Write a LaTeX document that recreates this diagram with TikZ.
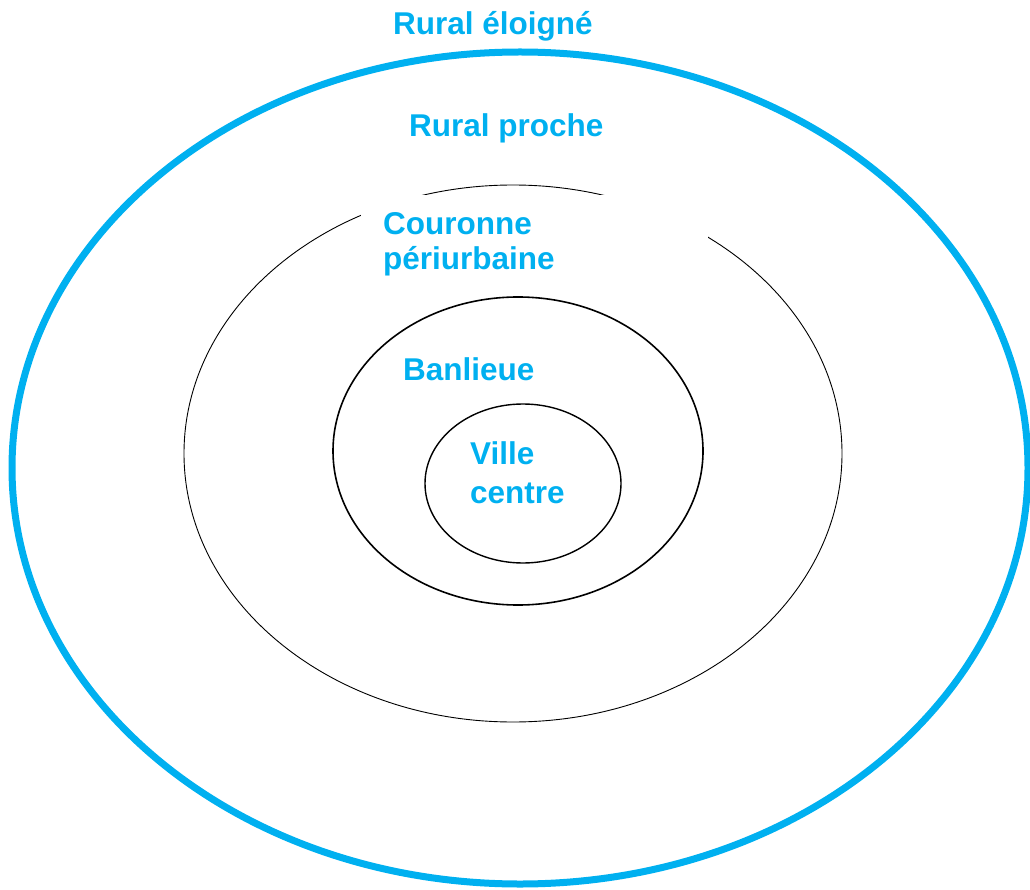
\documentclass[tikz,border=0pt]{standalone}
\usepackage{fontspec}
\setmainfont{Liberation Sans}
\definecolor{zoneblue}{HTML}{00B0F0}
\tikzset{
  zonelabel/.style={anchor=base west, inner sep=0pt, text=zoneblue,
    font=\bfseries\fontsize{31.5}{35}\selectfont},
  ring/.style={draw=black},
}
\begin{document}
\begin{tikzpicture}[x=1pt,y=-1pt]
\useasboundingbox (0,0) rectangle (1030,890);
% outer ring
\draw[draw=zoneblue, line width=7pt] (520,468) ellipse [x radius=508pt, y radius=416pt];
% periurban ring
\draw[ring, line width=0.9pt] (513,453.5) ellipse [x radius=329pt, y radius=268.5pt];
% white mask behind label
\fill[white] (361,195) rectangle (708,285);
% suburb ring
\draw[ring, line width=1.6pt] (518,451) ellipse [x radius=185pt, y radius=154pt];
% city centre ring
\draw[ring, line width=1.4pt] (523,483.5) ellipse [x radius=98pt, y radius=79.5pt];
% labels
\node[zonelabel] (eloigne) at (393,35) {Rural éloigné};
\node[zonelabel] (proche) at (409,137) {Rural proche};
\node[zonelabel] (couronne) at (383,235) {Couronne};
\node[zonelabel] (periurb) at (383,270) {périurbaine};
\node[zonelabel] (banlieue) at (403,380) {Banlieue};
\node[zonelabel] (ville) at (470,464) {Ville};
\node[zonelabel] (centre) at (470,503) {centre};
\end{tikzpicture}
\end{document}
